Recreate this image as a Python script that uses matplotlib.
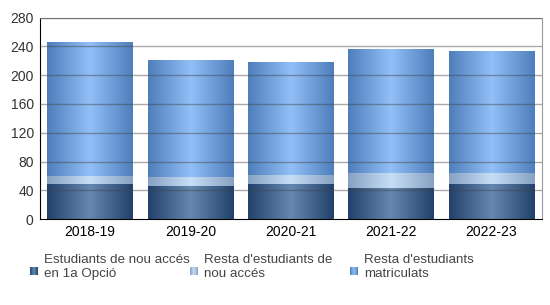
import numpy as np
import matplotlib
matplotlib.use("Agg")
import matplotlib.pyplot as plt
from matplotlib.colors import LinearSegmentedColormap

plt.rcParams['font.family'] = ['Liberation Sans', 'DejaVu Sans']

categories = ["2018-19", "2019-20", "2020-21", "2021-22", "2022-23"]
first_option = [49, 46, 49, 43, 49]
other_new = [11, 13, 12, 21, 15]
rest_enrolled = [186, 162, 157, 172, 169]
series_labels = ["Estudiants de nou accés\nen 1a Opció",
                 "Resta d'estudiants de\nnou accés",
                 "Resta d'estudiants\nmatriculats"]
yticks = [0, 40, 80, 120, 160, 200, 240, 280]

grad_colors = [
    ("#22416a", "#6688b0"),
    ("#86a1c2", "#c8def6"),
    ("#4e7ebb", "#92bff7"),
]

def make_cmap(edge, center):
    return LinearSegmentedColormap.from_list("g", [edge, center, edge])

grad = np.linspace(0, 1, 256).reshape(1, -1)

fig = plt.figure(figsize=(5.5, 3.05), dpi=100)
ax = fig.add_axes([40/550, 1 - 219.3/305, (541.7-40)/550, (219.3-17.5)/305])

x = np.arange(len(categories))
width = 0.857
bottoms = np.zeros(len(categories))
for vals, (edge, center) in zip([first_option, other_new, rest_enrolled], grad_colors):
    bars = ax.bar(x, vals, width, bottom=bottoms, color="none", edgecolor="none", zorder=2)
    cmap = make_cmap(edge, center)
    for b in bars:
        bx, by = b.get_x(), b.get_y()
        im = ax.imshow(grad, cmap=cmap, aspect="auto",
                       extent=[bx, bx + b.get_width(), by, by + b.get_height()],
                       zorder=2, interpolation="bilinear")
        im.set_clip_path(b)
    bottoms = bottoms + np.array(vals)

ax.set_xlim(-0.5, len(categories) - 0.5)
ax.set_ylim(0, 280)
ax.set_yticks(yticks)
ax.set_xticks(x)
ax.set_xticklabels(categories)
ax.tick_params(axis='both', length=0, labelsize=10, colors="#333333")
ax.tick_params(axis='x', pad=4, labelcolor="#000000")
ax.tick_params(axis='y', pad=4.5)
for yv in yticks[1:]:
    ax.axhline(yv, color="#444444", alpha=0.45, lw=1, zorder=3)
for s in ["top", "right"]:
    ax.spines[s].set_color("#999999")
ax.spines["left"].set_color("#000000")
ax.spines["bottom"].set_color("#000000")

# legend
sw_x = [30, 190, 350]
for i, (lab, (edge, center)) in enumerate(zip(series_labels, grad_colors)):
    sax = fig.add_axes([sw_x[i]/550, 1 - 274.5/305, 7.5/550, 7.5/305])
    sax.imshow(grad, cmap=make_cmap(edge, center), aspect="auto")
    sax.axis("off")
    fig.text((sw_x[i] + 14)/550, 1 - 267/305, lab, fontsize=9.6, color="#444444",
             va="center", ha="left", linespacing=1.3)

fig.savefig("out.png", dpi=100)
